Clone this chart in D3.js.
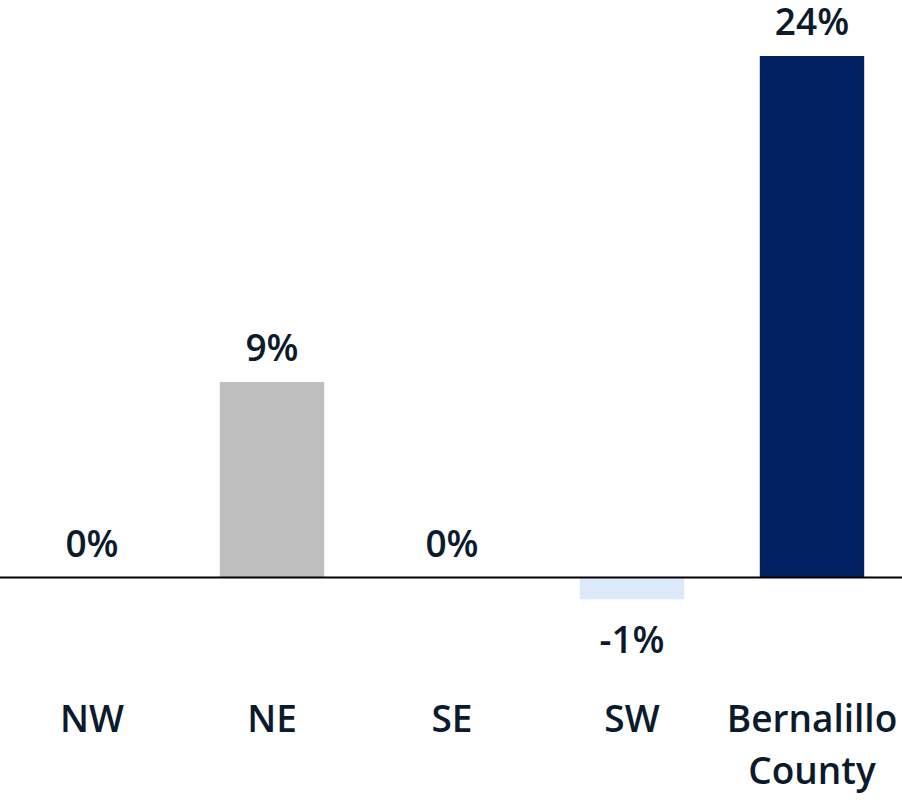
<!DOCTYPE html>
<html>
<head>
<meta charset="utf-8">
<script src="https://cdn.jsdelivr.net/npm/d3@7"></script>
<style>
  body { margin: 0; background: #fff; }
  svg { display: block; font-family: "Open Sans", sans-serif; }
</style>
</head>
<body>
<svg></svg>
<script>
// data
const categories = ['NW', 'NE', 'SE', 'SW', 'Bernalillo County'];
const values = [0, 9, 0, -1, 24];
const colors = ['#bfbfbf', '#bfbfbf', '#bfbfbf', '#dce9fb', '#002060'];

let config = { svg: {}, plot: {} };
config.svg.width = 902;
config.svg.height = 812;
config.plot.zero = 577.5;
config.plot.top = 56;

let svg = d3.select('svg')
  .attr('width', config.svg.width)
  .attr('height', config.svg.height);

let x = d3.scaleBand()
  .domain(categories)
  .range([2, 902])
  .paddingInner(0.42)
  .paddingOuter(0.21);

let y = d3.scaleLinear()
  .domain([0, 24])
  .range([config.plot.zero, config.plot.top]);

let rows = categories.map((c, i) => ({ cat: c, value: values[i], color: colors[i] }));

// bars
svg.append('g').selectAll('rect')
  .data(rows)
  .join('rect')
  .attr('x', d => x(d.cat))
  .attr('width', x.bandwidth())
  .attr('y', d => y(Math.max(0, d.value)))
  .attr('height', d => Math.abs(y(d.value) - y(0)))
  .attr('fill', d => d.color);

// baseline
svg.append('line')
  .attr('x1', 0).attr('x2', config.svg.width)
  .attr('y1', y(0)).attr('y2', y(0))
  .attr('stroke', '#000')
  .attr('stroke-width', 2);

const textColor = '#0b1a2c';
const fontSize = 37;

// value labels
svg.append('g').selectAll('text')
  .data(rows)
  .join('text')
  .attr('x', d => x(d.cat) + x.bandwidth() / 2)
  .attr('y', d => d.value >= 0 ? y(d.value) - 21 : y(d.value) + 54)
  .attr('text-anchor', 'middle')
  .attr('font-size', fontSize)
  .attr('font-weight', 600)
  .attr('fill', textColor)
  .text(d => d.value + '%');

// category labels
let cats = svg.append('g').selectAll('text')
  .data(rows)
  .join('text')
  .attr('x', d => x(d.cat) + x.bandwidth() / 2)
  .attr('y', 732)
  .attr('text-anchor', 'middle')
  .attr('font-size', fontSize)
  .attr('font-weight', 600)
  .attr('fill', textColor);

cats.each(function (d) {
  let words = d.cat === 'Bernalillo County' ? ['Bernalillo', 'County'] : [d.cat];
  d3.select(this).selectAll('tspan')
    .data(words)
    .join('tspan')
    .attr('x', x(d.cat) + x.bandwidth() / 2)
    .attr('dy', (w, i) => i === 0 ? 0 : 52)
    .text(w => w);
});
</script>
</body>
</html>
